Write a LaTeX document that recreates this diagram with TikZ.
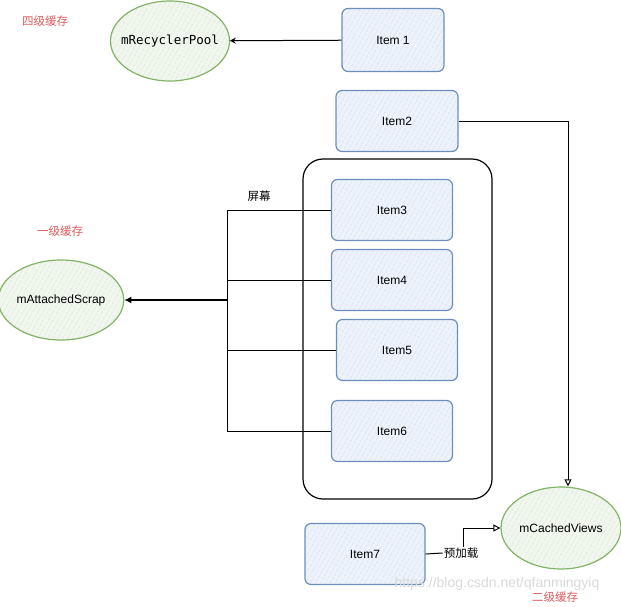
\documentclass[tikz,border=0pt]{standalone}
\usepackage{fontspec}
\setmainfont{Liberation Sans}
\newfontfamily\cjk{Noto Sans CJK SC}
\newfontfamily\codefont{DejaVu Sans Mono}
\usepackage{tikz}
\usetikzlibrary{positioning,arrows.meta,patterns.meta,shapes.geometric}
\definecolor{itemline}{HTML}{6C8EBF}
\definecolor{itemfill}{HTML}{EEF3FB}
\definecolor{itemhatch}{HTML}{B9CCEA}
\definecolor{cacheline}{HTML}{82B366}
\definecolor{cachefill}{HTML}{F1F7EF}
\definecolor{cachehatch}{HTML}{BFDAB5}
\definecolor{tagred}{HTML}{E05A5A}

\begin{document}
\begin{tikzpicture}[
    x=1pt, y=-1pt,
    node distance=70pt,
    font=\fontsize{12}{14}\selectfont,
    item/.style={
		rectangle,
		rounded corners=6pt,
		draw=itemline,
		line width=1.2pt,
		preaction={fill=itemfill},
		pattern={Lines[angle=60,distance=4pt,line width=0.5pt]},
		pattern color=itemhatch,
		minimum width=121pt,
		minimum height=61pt
	},
	cache/.style={
		ellipse,
		draw=cacheline,
		line width=1.2pt,
		preaction={fill=cachefill},
		pattern={Lines[angle=60,distance=4pt,line width=0.5pt]},
		pattern color=cachehatch,
		minimum width=119pt,
		minimum height=80pt,
		inner sep=0pt
	},
	tag/.style={
		text=tagred,
		font=\cjk\fontsize{11.5}{13}\selectfont
	},
	link/.style={
		line width=1pt
	}
  ]
    \useasboundingbox (0,0) rectangle (621,606);

    % caches
  \node [cache, inner xsep=-14pt, font=\codefont\fontsize{12.5}{14}\selectfont] (pool) at (170,41) {mRecyclerPool};
  \node [cache, minimum width=117pt] (scrap) at (61,300) {mAttachedScrap};
  \node [cache, minimum width=120pt, minimum height=82pt] (cached) at (561,528) {mCachedViews};

  \node [tag] (tag4) at (45,21) {四级缓存};
  \node [tag] (tag1) at (60,231) {一级缓存};
  \node [tag] (tag2) at (555,597) {二级缓存};

    % screen with items
  \node [draw, line width=1.2pt, rounded corners=20pt, minimum width=189pt,
         minimum height=340pt] (screen) at (397.5,329) {};
  \node [font=\cjk\fontsize{11.5}{13}\selectfont] (screenlabel) at (259,196) {屏幕};

  \node [item, minimum width=102pt, minimum height=63pt] (item1) at (393,40) {Item 1};
  \node [item, below of=item1, node distance=81pt, xshift=4pt, minimum width=122pt] (item2) {Item2};
  \node [item, below of=item2, node distance=89pt, xshift=-5pt] (item3) {Item3};
  \node [item, below of=item3] (item4) {Item4};
  \node [item, below of=item4, xshift=5pt] (item5) {Item5};
  \node [item, below of=item5, node distance=81pt, xshift=-5pt] (item6) {Item6};
  \node [item, minimum width=120pt] (item7) at (365,554) {Item7};

  \node [font=\cjk\fontsize{11.5}{13}\selectfont, inner sep=1pt] (preload) at (461,553) {预加载};

  \node [text=gray!30, font=\fontsize{14}{16}\selectfont, inner sep=0pt] (mark) at (497,584) {https://blog.csdn.net/qfanmingyiq};

    % connectors
  \coordinate (bus) at (227,300);

  \draw [link, -{Stealth[open, length=6pt, width=6pt]}] (item1) -- (pool);
  \draw [link, -{Triangle[open, length=7pt, width=7pt]}] (item2.east) -| ([xshift=7pt]cached.north);
  \draw [link] (item3.west) -- (item3.west -| bus) -- (item6.west -| bus) -- (item6.west);
  \draw [link] (item4.west) -- (item4.west -| bus);
  \draw [link] (item5.west) -- (item5.west -| bus);
  \draw [line width=2pt, -{Latex[length=7pt, width=7pt]}] (bus) -- (scrap);
  \draw [link] (item7.east) -- (preload.west);
  \draw [link, -{Triangle[open, length=7pt, width=7pt]}] ([xshift=2pt]preload.north) |- (cached.west);

\end{tikzpicture}
\end{document}
